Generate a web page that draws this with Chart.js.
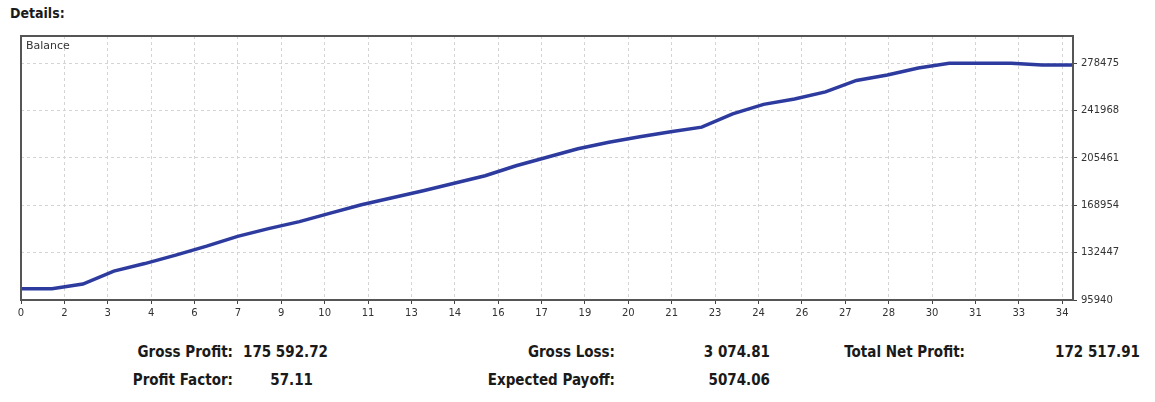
<!DOCTYPE html>
<html>
<head>
<meta charset="utf-8">
<script src="https://cdn.jsdelivr.net/npm/chart.js@4.4.1/dist/chart.umd.min.js"></script>
<style>
  html, body { margin: 0; padding: 0; background: #fff; }
  body { width: 1155px; height: 402px; position: relative; overflow: hidden;
         font-family: "DejaVu Sans Condensed", "DejaVu Sans", sans-serif; font-stretch: condensed; color: #1a1a1a; }
  #wrap { position: absolute; left: 0; top: 0; width: 1155px; height: 330px; }
  .t { position: absolute; font-weight: bold; font-size: 15px; white-space: nowrap; line-height: 18px; }
  .r { transform: translateX(-100%); }
</style>
</head>
<body>
<div class="t" style="left:10px; top:4px; font-size:14px;">Details:</div>
<div id="wrap"><canvas id="balanceChart"></canvas></div>

<div class="t r" style="left:233px; top:343px;">Gross Profit:</div>
<div class="t" style="left:243px; top:343px;">175 592.72</div>
<div class="t r" style="left:615px; top:343px;">Gross Loss:</div>
<div class="t r" style="left:770px; top:343px;">3 074.81</div>
<div class="t r" style="left:965px; top:343px;">Total Net Profit:</div>
<div class="t r" style="left:1140px; top:343px;">172 517.91</div>

<div class="t r" style="left:233px; top:371px;">Profit Factor:</div>
<div class="t r" style="left:313px; top:371px;">57.11</div>
<div class="t r" style="left:615px; top:371px;">Expected Payoff:</div>
<div class="t r" style="left:770px; top:371px;">5074.06</div>

<script>
// Balance curve, one value per closed trade (0 = deposit)
const trades = Array.from({ length: 35 }, (_, i) => i);
const balance = [104600, 104600, 108250, 118250, 124030, 130570, 137490, 145030, 150960, 156350,
  162890, 169430, 174810, 180200, 185970, 191740, 199440, 205980, 212520, 217520,
  221750, 225600, 229220, 239450, 246760, 250990, 256380, 265230, 269460, 274850,
  278500, 278500, 278500, 277100, 277100];

// axis labels as printed by the tester
const xTickLabels = ['0', '2', '3', '4', '6', '7', '9', '10', '11', '13', '14', '16', '17',
  '19', '20', '21', '23', '24', '26', '27', '28', '30', '31', '33', '34'];
const yTicks = [95940, 132447, 168954, 205461, 241968, 278475];

const tickSpan = 33.65; // last x label sits a bit left of the frame

// frame round the plot + "Balance" caption
const framePlugin = {
  id: 'frame',
  afterDraw(chart) {
    const { ctx, chartArea: a } = chart;
    ctx.save();
    ctx.strokeStyle = '#555';
    ctx.lineWidth = 2;
    ctx.strokeRect(a.left, a.top, a.right - a.left, a.bottom - a.top);
    ctx.fillStyle = '#333';
    ctx.font = '11px "DejaVu Sans"';
    ctx.textBaseline = 'top';
    ctx.fillText(chart.data.datasets[0].label, a.left + 5, a.top + 5);
    ctx.restore();
  }
};

const ctx = document.getElementById('balanceChart').getContext('2d');
new Chart(ctx, {
  type: 'line',
  data: {
    datasets: [{
      label: 'Balance',
      data: trades.map((t, i) => ({ x: t, y: balance[i] })),
      borderColor: '#2d3b9f',
      borderWidth: 3.5,
      pointRadius: 0,
      tension: 0,
      fill: false
    }]
  },
  options: {
    responsive: true,
    maintainAspectRatio: false,
    animation: false,
    layout: { padding: { left: 21, top: 36, right: 0, bottom: 0 } },
    scales: {
      x: {
        type: 'linear',
        min: 0,
        max: 34,
        afterBuildTicks: (scale) => {
          scale.ticks = xTickLabels.map((_, i) => ({ value: i * tickSpan / (xTickLabels.length - 1) }));
        },
        afterFit: (scale) => { scale.height = 30; },
        grid: { color: '#d4d4d4', tickColor: '#444', tickLength: 4 },
        border: { display: false, dash: [3, 3] },
        ticks: {
          autoSkip: false,
          maxRotation: 0,
          padding: 3,
          color: '#333',
          font: { family: 'DejaVu Sans', size: 10 },
          callback: (v, i) => xTickLabels[i]
        }
      },
      y: {
        position: 'right',
        min: 95940,
        max: 299500,
        afterBuildTicks: (scale) => {
          scale.ticks = yTicks.map(v => ({ value: v }));
        },
        afterFit: (scale) => { scale.width = 82; },
        grid: { color: '#d4d4d4', tickColor: '#444', tickLength: 4 },
        border: { display: false, dash: [3, 3] },
        ticks: {
          padding: 4,
          color: '#333',
          font: { family: 'DejaVu Sans', size: 10 },
          callback: (v) => String(v)
        }
      }
    },
    plugins: {
      legend: { display: false },
      tooltip: { enabled: false }
    }
  },
  plugins: [framePlugin]
});
</script>
</body>
</html>
